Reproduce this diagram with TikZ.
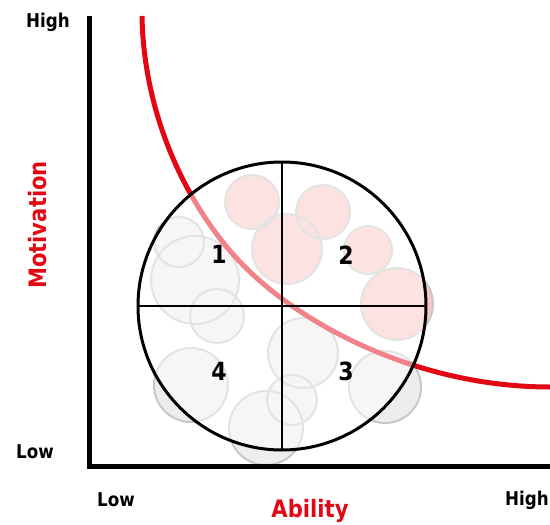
\documentclass[tikz,border=0pt]{standalone}
\usepackage{fontspec}
\setmainfont{DejaVu Sans}[FakeStretch=0.88]
\definecolor{redline}{RGB}{227,6,19}
\definecolor{grayfill}{RGB}{237,237,237}
\definecolor{pinkfill}{RGB}{251,198,198}
\definecolor{bubbleedge}{RGB}{200,200,200}
\begin{document}
\begin{tikzpicture}[x=1pt,y=-1pt,
  axislbl/.style={font=\bfseries\fontsize{19}{22}\selectfont, inner sep=0pt},
  titlelbl/.style={font=\bfseries\fontsize{24}{27}\selectfont, inner sep=0pt, text=redline},
  numlbl/.style={font=\bfseries\fontsize{25}{28}\selectfont, inner sep=0pt},
  bubbleline/.style={draw=bubbleedge, line width=2pt}]
\useasboundingbox (0,0) rectangle (550,525);
% bubbles: fills
\foreach \x/\y/\r in {179/242/25, 195/280/44, 217/316/27, 191/385/37, 303/353/35, 292/400/25, 266/428/37, 385/387/36}
  \fill[grayfill] (\x,\y) circle (\r pt);
\foreach \x/\y/\r in {252/202/27, 287/249/35, 323/212/27, 368/250/24, 397/304/36}
  \fill[pinkfill] (\x,\y) circle (\r pt);
% bubbles: outlines
\foreach \x/\y/\r in {179/242/25, 195/280/44, 217/316/27, 191/385/37, 303/353/35, 292/400/25, 266/428/37, 385/387/36, 252/202/27, 287/249/35, 323/212/27, 368/250/24, 397/304/36}
  \draw[bubbleline] (\x,\y) circle (\r pt);
% red curve
\coordinate (rstart) at (142,16);
\coordinate (rmid) at (245,267);
\coordinate (rend) at (550,387);
\draw[redline, line width=5pt, line cap=butt]
  (rstart) .. controls (144,126) and (195,217) .. (rmid)
           .. controls (305,327) and (420,387) .. (rend);
% big circle
\coordinate (c) at (282,306);
\fill[white, fill opacity=0.5] (c) circle (144pt);
\draw[black, line width=3pt] (c) circle (144pt);
\coordinate (ct) at (282,162);
\coordinate (cb) at (282,450);
\coordinate (cl) at (138,306);
\coordinate (cr) at (426,306);
\draw[black, line width=2pt] (ct) -- (cb);
\draw[black, line width=2pt] (cl) -- (cr);
% axes
\coordinate (ytop) at (89,16);
\coordinate (origin) at (89,466);
\coordinate (xend) at (550,466);
\draw[black, line width=5pt, line join=miter] (ytop) -- (origin) -- (xend);
% labels
\node[numlbl] (n1) at (219,254) {1};
\node[numlbl] (n2) at (346,255) {2};
\node[numlbl] (n3) at (346,371) {3};
\node[numlbl] (n4) at (219,371) {4};
\node[axislbl] (yhigh) at (48,22) {High};
\node[axislbl] (ylow) at (35,452) {Low};
\node[axislbl] (xlow) at (116,500) {Low};
\node[axislbl] (xhigh) at (527,500) {High};
\node[titlelbl] (xtitle) at (310,511) {Ability};
\node[titlelbl, rotate=90] (ytitle) at (38,225) {Motivation};
\end{tikzpicture}
\end{document}
